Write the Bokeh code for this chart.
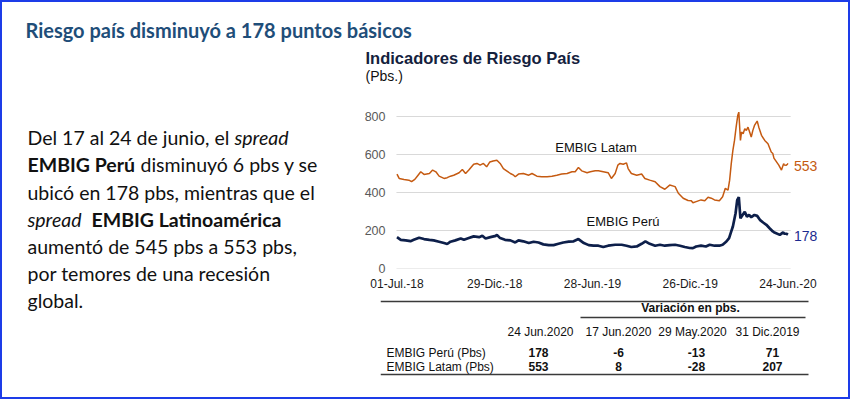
import pandas as pd
from bokeh.plotting import figure
from bokeh.layouts import column, row
from bokeh.models import Label, FixedTicker, Range1d
from bokeh.core.properties import value
from bokeh.embed import file_html
from bokeh.resources import INLINE

# ---------------- data ----------------
latam_dates = [
    "2018-07-01", "2018-07-05", "2018-07-14", "2018-07-23", "2018-07-28", "2018-08-03", "2018-08-09",
    "2018-08-14", "2018-08-20", "2018-08-30", "2018-09-05", "2018-09-11", "2018-09-17", "2018-09-26",
    "2018-10-02", "2018-10-08", "2018-10-14", "2018-10-24", "2018-10-30", "2018-11-05", "2018-11-11",
    "2018-11-20", "2018-11-26", "2018-12-02", "2018-12-08", "2018-12-14", "2018-12-20", "2018-12-26",
    "2019-01-02", "2019-01-08", "2019-01-14", "2019-01-20", "2019-01-27", "2019-02-02", "2019-02-05",
    "2019-02-11", "2019-02-20", "2019-03-02", "2019-03-08", "2019-03-17", "2019-03-26", "2019-04-05",
    "2019-04-14", "2019-04-23", "2019-05-02", "2019-05-12", "2019-05-21", "2019-05-27", "2019-06-02",
    "2019-06-08", "2019-06-18", "2019-06-24", "2019-07-03", "2019-07-09", "2019-07-18", "2019-07-27",
    "2019-08-02", "2019-08-09", "2019-08-14", "2019-08-18", "2019-08-24", "2019-08-30", "2019-09-02",
    "2019-09-08", "2019-09-18", "2019-09-27", "2019-10-03", "2019-10-12", "2019-10-22", "2019-10-31",
    "2019-11-09", "2019-11-18", "2019-11-28", "2019-12-04", "2019-12-13", "2019-12-22", "2019-12-28",
    "2019-12-31", "2020-01-06", "2020-01-15", "2020-01-22", "2020-01-28", "2020-02-03", "2020-02-09",
    "2020-02-18", "2020-02-24", "2020-02-29", "2020-03-05", "2020-03-08", "2020-03-11", "2020-03-14",
    "2020-03-17", "2020-03-20", "2020-03-23", "2020-03-25", "2020-03-28", "2020-03-30", "2020-04-02",
    "2020-04-05", "2020-04-08", "2020-04-11", "2020-04-14", "2020-04-17", "2020-04-20", "2020-04-23",
    "2020-04-28", "2020-05-01", "2020-05-06", "2020-05-12", "2020-05-18", "2020-05-24", "2020-05-27",
    "2020-05-29", "2020-06-07", "2020-06-12", "2020-06-16", "2020-06-17", "2020-06-21", "2020-06-23",
    "2020-06-24",
]
latam_values = [
    497, 474, 469, 465, 457, 469, 491,
    509, 495, 500, 518, 509, 486, 474,
    478, 486, 491, 504, 521, 500, 518,
    549, 553, 544, 553, 535, 561, 566,
    570, 553, 526, 514, 500, 491, 483,
    497, 500, 491, 500, 486, 483, 483,
    486, 491, 497, 500, 509, 509, 532,
    514, 504, 509, 514, 514, 509, 504,
    474, 500, 544, 553, 549, 556, 526,
    500, 491, 497, 474, 465, 457, 431,
    417, 439, 431, 396, 370, 358, 357,
    346, 352, 361, 357, 375, 370, 361,
    357, 378, 422, 413, 465, 552, 622,
    674, 744, 805, 823, 674, 718, 709,
    736, 727, 744, 718, 692, 727, 753,
    776, 744, 701, 674, 657, 613, 605,
    581, 544, 518, 552, 545, 544, 549,
    553,
]

peru_dates = [
    "2018-07-01", "2018-07-08", "2018-07-17", "2018-07-26", "2018-08-01", "2018-08-11", "2018-08-20",
    "2018-08-30", "2018-09-07", "2018-09-17", "2018-09-26", "2018-10-02", "2018-10-08", "2018-10-17",
    "2018-10-27", "2018-11-02", "2018-11-11", "2018-11-20", "2018-11-30", "2018-12-06", "2018-12-12",
    "2018-12-21", "2018-12-31", "2019-01-02", "2019-01-08", "2019-01-17", "2019-01-27", "2019-02-05",
    "2019-02-11", "2019-02-20", "2019-03-02", "2019-03-11", "2019-03-20", "2019-03-29", "2019-04-08",
    "2019-04-17", "2019-04-26", "2019-05-05", "2019-05-15", "2019-05-24", "2019-06-02", "2019-06-12",
    "2019-06-21", "2019-06-30", "2019-07-09", "2019-07-18", "2019-07-27", "2019-08-09", "2019-08-21",
    "2019-08-30", "2019-09-08", "2019-09-18", "2019-09-27", "2019-10-04", "2019-10-12", "2019-10-22",
    "2019-10-31", "2019-11-09", "2019-11-18", "2019-11-28", "2019-12-07", "2019-12-16", "2019-12-25",
    "2019-12-31", "2020-01-06", "2020-01-15", "2020-01-24", "2020-01-31", "2020-02-09", "2020-02-18",
    "2020-02-24", "2020-03-02", "2020-03-07", "2020-03-11", "2020-03-14", "2020-03-19", "2020-03-22",
    "2020-03-25", "2020-03-28", "2020-04-01", "2020-04-05", "2020-04-09", "2020-04-13", "2020-04-17",
    "2020-04-23", "2020-04-28", "2020-05-03", "2020-05-09", "2020-05-15", "2020-05-21", "2020-05-27",
    "2020-05-29", "2020-06-09", "2020-06-15", "2020-06-17", "2020-06-21", "2020-06-24",
]
peru_values = [
    165, 151, 148, 144, 151, 162, 155,
    151, 148, 141, 134, 129, 141, 148,
    158, 151, 160, 169, 165, 172, 158,
    165, 172, 177, 160, 151, 148, 137,
    148, 143, 134, 141, 137, 127, 123,
    123, 130, 137, 141, 143, 155, 134,
    123, 120, 120, 113, 120, 125, 125,
    120, 113, 116, 130, 143, 130, 120,
    125, 120, 123, 125, 120, 113, 108,
    107, 116, 120, 116, 125, 120, 120,
    125, 142, 160, 195, 221, 291, 360,
    376, 264, 282, 299, 273, 282, 270,
    282, 277, 256, 242, 230, 212, 195,
    191, 177, 190, 184, 183, 178,
]

x_tick_dates = ["2018-07-01", "2018-12-29", "2019-06-28", "2019-12-26", "2020-06-24"]
x_tick_labels = ["01-Jul.-18", "29-Dic.-18", "28-Jun.-19", "26-Dic.-19", "24-Jun.-20"]
y_ticks = [0, 200, 400, 600, 800]
series_names = ["EMBIG Latam", "EMBIG Perú"]

table_group_title = "Variación en pbs."
table_header = ["24 Jun.2020", "17 Jun.2020", "29 May.2020", "31 Dic.2019"]
table_row_names = ["EMBIG Perú (Pbs)", "EMBIG Latam (Pbs)"]
peru_table = [178, -6, -13, 71]
latam_table = [553, 8, -28, 207]

title_text = "Riesgo país disminuyó a 178 puntos básicos"
chart_title = "Indicadores de Riesgo País"
chart_unit = "(Pbs.)"

# paragraph: (segment text, style) per line
paragraph = [
    [("Del 17 al 24 de junio, el", "normal"), ("spread", "italic")],
    [("EMBIG Perú", "bold"), ("disminuyó 6 pbs y se", "normal")],
    [("ubicó en 178 pbs, mientras que el", "normal")],
    [("spread", "italic"), ("EMBIG Latinoamérica", "bold")],
    [("aumentó de 545 pbs a 553 pbs,", "normal")],
    [("por temores de una recesión", "normal")],
    [("global.", "normal")],
]

# ---------------- styling ----------------
BORDER = "#1d3ce8"
TITLE_BLUE = "#1f4e79"
ORANGE = "#c55a11"
NAVY = "#0d1f4a"
PARA_FONT = "Lato"
CHART_FONT = "Liberation Sans"


def deco_fig(w, h, x0, x1, y0, y1, left_border=0):
    """Figure whose frame is (almost) its whole canvas; y grows downward (page pixels)."""
    f = figure(width=w, height=h, output_backend="svg", toolbar_location=None,
               x_range=Range1d(x0, x1), y_range=Range1d(y1, y0),
               x_axis_location=None, y_axis_location=None,
               min_border_left=left_border, min_border_right=0,
               min_border_top=0, min_border_bottom=0)
    f.grid.visible = False
    f.outline_line_color = None
    f.background_fill_color = "white"
    f.border_fill_color = "white"
    return f


def txt(f, xs, ys, texts, size, font=CHART_FONT, style="normal", color="#111111",
        align="left", baseline="middle"):
    f.text(x=xs, y=ys, text=texts, text_font=value(font), text_font_size=value(f"{size}px"),
           text_font_style=value(style), text_color=color, text_align=value(align),
           text_baseline=value(baseline))


# ---- top strip (titles) ----
top = deco_fig(846, 95, 2, 848, 2, 97)
txt(top, [25], [29], [title_text], 20, font=PARA_FONT, style="bold", color=TITLE_BLUE)
txt(top, [365], [57], [chart_title], 16.5, style="bold", color="#14213d")
txt(top, [365], [75], [chart_unit], 14)

# ---- left text column ----
left = deco_fig(338, 300, 2, 340, 97, 397)
seg_x = [[27, 234], [27, 140], [27], [27, 91], [27], [27], [27]]
centers = [137, 164, 192, 219, 246, 273, 300]
for line, xs, yc in zip(paragraph, seg_x, centers):
    for (t, st), xx in zip(line, xs):
        txt(left, [xx], [yc], [t], 19.5, font=PARA_FONT, style=st, color="#111111")

# ---- chart ----
def ms(d):
    return pd.Timestamp(d).value / 1e6

DAY = 86400000.0
PX_PER_DAY = 0.540
FRAME_L = 380     # page x of chart frame left (shared with table frame)
x_start = ms(x_tick_dates[0]) - (396.5 - FRAME_L) / PX_PER_DAY * DAY
x_end = x_start + (848 - FRAME_L) / PX_PER_DAY * DAY

chart = figure(width=508, height=196, output_backend="svg", toolbar_location=None,
               x_axis_type="datetime",
               x_range=Range1d(x_start, x_end), y_range=Range1d(0, 900),
               min_border_left=FRAME_L - 340, min_border_right=0,
               min_border_top=0, min_border_bottom=24)
chart.outline_line_color = None
chart.grid.visible = False
chart.background_fill_color = "white"
chart.border_fill_color = "white"

grid_start = ms(x_tick_dates[0]) - 1 * DAY
grid_end = ms(peru_dates[-1]) + 5 * DAY
chart.segment(x0=[grid_start] * len(y_ticks), x1=[grid_end] * len(y_ticks), y0=y_ticks, y1=y_ticks,
              line_color="#d9d9d9", line_width=1)

chart.yaxis.ticker = FixedTicker(ticks=y_ticks)
chart.yaxis.axis_line_color = None
chart.yaxis.major_tick_line_color = None
chart.yaxis.minor_tick_line_color = None
chart.yaxis.major_tick_out = 0
chart.yaxis.major_tick_in = 0
chart.yaxis.major_label_text_font = CHART_FONT
chart.yaxis.major_label_text_font_size = "12.5px"
chart.yaxis.major_label_text_color = "#595959"
chart.yaxis.major_label_standoff = -5

xt = [ms(d) for d in x_tick_dates]
chart.xaxis.ticker = FixedTicker(ticks=xt)
chart.xaxis.major_label_overrides = {t: l for t, l in zip(xt, x_tick_labels)}
chart.xaxis.axis_line_color = None
chart.xaxis.major_tick_line_color = None
chart.xaxis.minor_tick_line_color = None
chart.xaxis.major_tick_out = 0
chart.xaxis.major_tick_in = 0
chart.xaxis.major_label_text_font = CHART_FONT
chart.xaxis.major_label_text_font_size = "12px"
chart.xaxis.major_label_text_color = "#1a1a1a"
chart.xaxis.major_label_standoff = 8

chart.line(pd.to_datetime(latam_dates), latam_values, line_color=ORANGE, line_width=1.5)
chart.line(pd.to_datetime(peru_dates), peru_values, line_color=NAVY, line_width=2.7)

chart.add_layout(Label(x=ms("2019-04-20"), y=638, text=series_names[0], text_font=CHART_FONT,
                       text_font_size="13px", text_color="#111111", text_baseline="middle"))
chart.add_layout(Label(x=ms("2019-06-17"), y=247, text=series_names[1], text_font=CHART_FONT,
                       text_font_size="13px", text_color="#111111", text_baseline="middle"))
chart.add_layout(Label(x=ms(latam_dates[-1]), y=latam_values[-1], x_offset=6, y_offset=-3,
                       text=str(latam_values[-1]), text_font=CHART_FONT, text_font_size="14px",
                       text_color=ORANGE, text_baseline="middle"))
chart.add_layout(Label(x=ms(peru_dates[-1]), y=peru_values[-1], x_offset=6, y_offset=-1,
                       text=str(peru_values[-1]), text_font=CHART_FONT, text_font_size="14px",
                       text_color="#1c2a8f", text_baseline="middle"))

# ---- table (frame left aligned with chart frame) ----
table = deco_fig(508, 104, FRAME_L, 848, 293, 397, left_border=FRAME_L - 340)
table.segment(x0=[380, 580, 380], x1=[808, 805, 808], y0=[301, 317, 374], y1=[301, 317, 374],
              line_color="#3a3a3a", line_width=1.4)
txt(table, [690], [307], [table_group_title], 12, style="bold", align="center")
header_x = [540, 618, 692, 767]
value_x = [538, 618, 696, 772]
txt(table, header_x, [331] * 4, table_header, 12, align="center")
for row_y, name, vals in zip([352, 366], table_row_names, [peru_table, latam_table]):
    txt(table, [386], [row_y], [name], 12)
    txt(table, value_x, [row_y] * 4, [str(v) for v in vals], 12, style="bold", align="center")

layout = column(
    top,
    row(left, column(chart, table, spacing=0), spacing=0),
    spacing=0,
    styles={"border": f"2px solid {BORDER}", "box-sizing": "content-box"},
)

open("out.html", "w").write(file_html(layout, INLINE))
